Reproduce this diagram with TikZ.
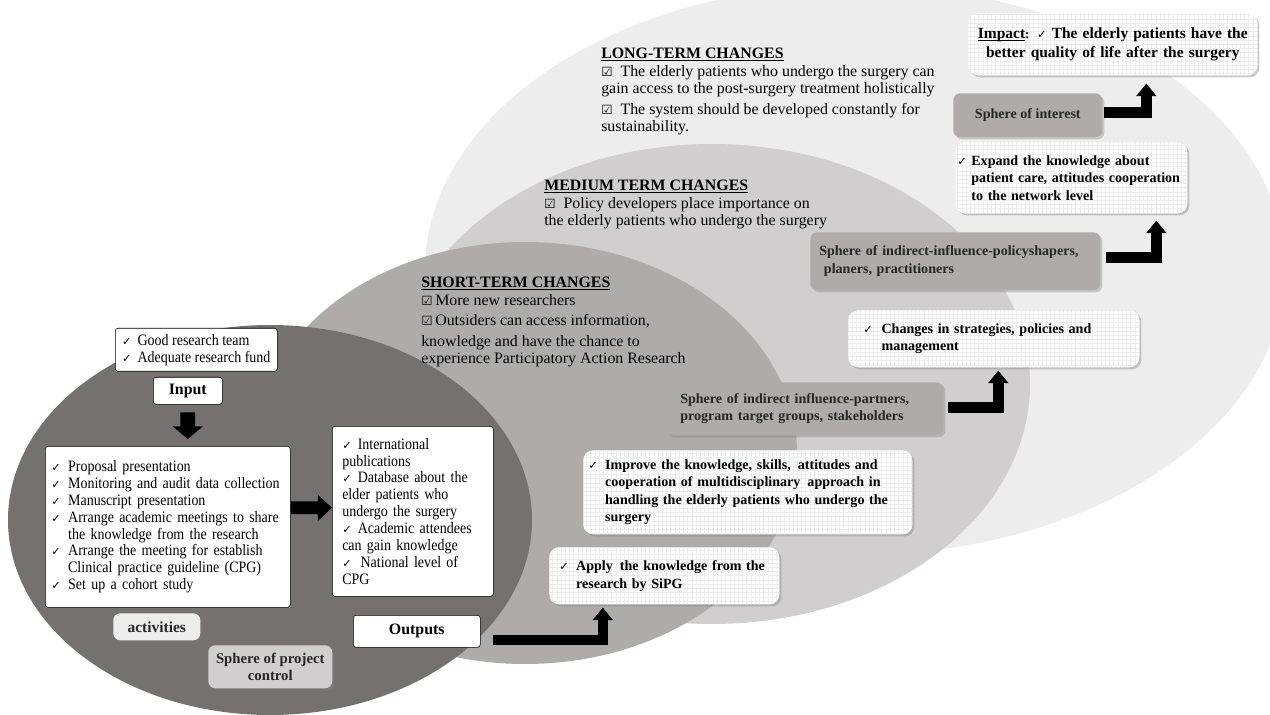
\documentclass[tikz,border=0pt]{standalone}
\usepackage{fontspec}
\setmainfont{Liberation Serif}[FakeStretch=0.88]
\newfontfamily\widefont{Liberation Serif}
\newfontfamily\symfont{DejaVu Sans}
\usetikzlibrary{arrows.meta,shadows,patterns,positioning}

\definecolor{longcol}{HTML}{EDEDED}
\definecolor{mediumcol}{HTML}{D0CECE}
\definecolor{shortcol}{HTML}{AFABAB}
\definecolor{controlcol}{HTML}{767171}
\definecolor{spherecol}{HTML}{AFABAB}

\newcommand{\tck}[1][11pt]{\makebox[#1][l]{\symfont\footnotesize ✓}\ignorespaces}
\newcommand{\ind}[1][11pt]{\hspace*{#1}\ignorespaces}
\newcommand{\bx}{{\symfont\small ☑}\enspace}
\newcommand{\ul}[1]{\sbox0{#1}\rlap{\rule[-1.8pt]{\wd0}{0.7pt}}\usebox0}

\tikzset{
    wh/.style 2 args={
           minimum width=#1*0.025cm,
           minimum height=#2*0.025cm,
           },
}
\tikzset{
    plainbox/.style={
           draw=black, fill=white, thin,
           rounded corners=2pt,
           inner ysep=0pt,
           align=left,
           anchor=north west,
           font=\fontsize{11.3}{12}\selectfont,
           },
}
\tikzset{
    gridbox/.style={
           rounded corners=7pt,
           drop shadow={shadow xshift=1.5pt,shadow yshift=-1.5pt,opacity=0.4},
           preaction={fill=white},
           pattern=grid, pattern color=black!7,
           inner ysep=0pt,
           align=left,
           anchor=north west,
           font=\widefont\bfseries\fontsize{10}{12.5}\selectfont,
           },
}
\tikzset{
    spherebox/.style={
           fill=spherecol,
           rounded corners=5pt,
           drop shadow={shadow xshift=1.5pt,shadow yshift=-1.5pt,opacity=0.35},
           inner ysep=0pt,
           align=left,
           anchor=north west,
           text=black!85,
           font=\widefont\bfseries\fontsize{10}{12.5}\selectfont,
           },
}
\tikzset{
    changes/.style={
           anchor=north west,
           inner sep=0pt,
           align=left,
           font=\widefont\fontsize{11.3}{12.5}\selectfont,
           },
}
\tikzset{
    elbow/.style={
           line width=7.5pt,
           -{Triangle[width=14pt,length=9pt]},
           },
}

\begin{document}
\begin{tikzpicture}[x=0.025cm,y=-0.025cm]
\useasboundingbox (0,0) rectangle (1270,715);

% spheres
\fill[longcol] (855,270) ellipse [x radius=430, y radius=285];
\fill[mediumcol] (712,384) ellipse [x radius=318, y radius=240];
\fill[shortcol] (525,453) ellipse [x radius=272, y radius=211];
\fill[controlcol] (270,520) ellipse [x radius=262, y radius=195];

% changes
\node[changes] (longterm) at (601,48) {\ul{\textbf{LONG-TERM CHANGES}}\\
\bx The elderly patients who undergo the surgery can\\
gain access to the post-surgery treatment holistically\\[2pt]
\bx The system should be developed constantly for\\
sustainability.};
\node[changes] (mediumterm) at (544,180) {\ul{\textbf{MEDIUM TERM CHANGES}}\\
\bx Policy developers place importance on\\
the elderly patients who undergo the surgery};
\node[changes] (shortterm) at (421,277) {\ul{\textbf{SHORT-TERM CHANGES}}\\
{\symfont\small ☑}\,More new researchers\\[2pt]
{\symfont\small ☑}\,Outsiders can access information,\\[2pt]
knowledge and have the chance to\\
experience Participatory Action Research};

% project control
\node[plainbox, wh={162}{43}] (team) at (115,328)
  {\tck Good research team\\\tck Adequate research fund};
\node[plainbox, wh={69}{27}, align=center, font=\widefont\bfseries\fontsize{11.3}{12}\selectfont] (input) at (153,377) {Input};
\node[plainbox, wh={245}{161}, text width=5.825cm, inner xsep=0.15cm] (activities) at (45,446)
  {\tck[12pt] Proposal presentation\\
   \tck[12pt] Monitoring and audit data collection\\
   \tck[12pt] Manuscript presentation\\
   \tck[12pt] Arrange academic meetings to share\\
   \ind[12pt] the knowledge from the research\\
   \tck[12pt] Arrange the meeting for establish\\
   \ind[12pt] Clinical practice guideline (CPG)\\
   \tck[12pt] Set up a cohort study};
\node[plainbox, wh={161}{170}, text width=3.525cm, inner xsep=0.25cm] (results) at (332,426)
  {\tck International\\publications\\
   \tck Database about the\\elder patients who\\undergo the surgery\\
   \tck Academic attendees\\can gain knowledge\\
   \tck[13pt] National level of\\CPG};
\node[spherebox, fill=longcol, wh={87}{27}, align=center, font=\widefont\bfseries\fontsize{11}{12}\selectfont] (activitylabel) at (113,613) {activities};
\node[plainbox, wh={127}{32}, align=center, font=\widefont\bfseries\fontsize{11.3}{12}\selectfont] (outputs) at (353,615) {Outputs};
\node[spherebox, fill=mediumcol, wh={124}{43}, align=center, font=\widefont\bfseries\fontsize{10.5}{12.5}\selectfont] (control) at (208,645) {Sphere of project\\control};

\draw[line width=10.5pt, -{Triangle[width=21pt,length=9pt]}] ([yshift=-5.5pt]input.south) -- ([shift={(20,-7)}]activities.north);
\draw[line width=9pt, -{Triangle[width=18pt,length=10pt]}] ([shift={(0,-19)}]activities.east) -- ([shift={(0,-3.5)}]results.west);

% outcomes
\node[gridbox, wh={230}{57}, text width=5.25cm, inner xsep=0.25cm] (apply) at (549,547)
  {\tck[12pt] Apply\, the knowledge from the\\\ind[12pt] research by SiPG};
\node[gridbox, wh={329}{84}, text width=7.975cm, inner xsep=0.125cm] (improve) at (583,450)
  {\tck[12pt] Improve the knowledge, skills,\, attitudes and\\
   \ind[12pt] cooperation of multidisciplinary\, approach in\\
   \ind[12pt] handling the elderly patients who undergo the\\
   \ind[12pt] surgery};
\node[spherebox, wh={277}{53}, text width=6.225cm, inner xsep=0.35cm] (partners) at (666,382)
  {Sphere of indirect influence-partners,\\program target groups, stakeholders};
\node[gridbox, wh={291}{57}, text width=6.525cm, inner xsep=0.375cm] (strategies) at (848,310)
  {\tck[13pt] Changes in strategies, policies and\\\ind[13pt] management};
\node[spherebox, wh={290}{58}, text width=6.8cm, inner xsep=0.225cm] (policy) at (810,232)
  {Sphere of indirect-influence-policyshapers,\\\ planers, practitioners};
\node[gridbox, wh={232}{71}, text width=5.7cm, inner xsep=0.05cm] (expand) at (955,142)
  {\tck[10pt] Expand the knowledge about\\\ind[10pt] patient care, attitudes cooperation\\\ind[10pt] to the network level};
\node[spherebox, wh={149}{44}, align=center] (interest) at (953,93) {Sphere of interest};
\node[gridbox, wh={289}{62}, text width=7.025cm, inner xsep=0.1cm, align=center, font=\widefont\bfseries\fontsize{11}{13}\selectfont] (impact) at (968,13)
  {\ul{Impact}{\small:} {\symfont\footnotesize ✓} The elderly patients have the\\better quality of life after the surgery};

\draw[elbow] ([shift={(12,8.5)}]outputs.east) -| ([shift={(-61.5,3)}]apply.south);
\draw[elbow] ([shift={(4,-1.5)}]partners.east) -| ([shift={(4.5,3)}]strategies.south);
\draw[elbow] ([shift={(5,-4)}]policy.east) -| ([shift={(85,7)}]expand.south);
\draw[elbow] ([shift={(1,-3)}]interest.east) -| ([shift={(33.5,8)}]impact.south);
\end{tikzpicture}
\end{document}
